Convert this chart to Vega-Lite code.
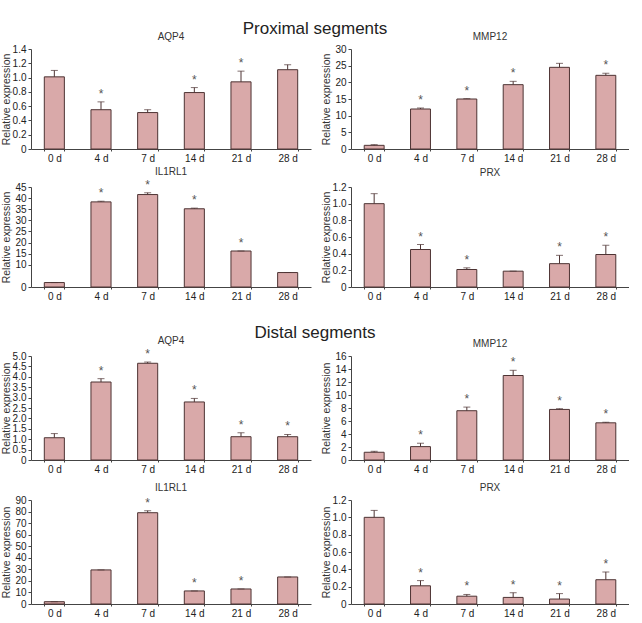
{
  "$schema": "https://vega.github.io/schema/vega-lite/v6.json",
  "padding": {"left": 1, "top": 20, "right": 0, "bottom": 0},
  "config": {
    "font": "Liberation Sans",
    "view": {"stroke": null},
    "axis": {"domainColor": "#444", "tickColor": "#444", "labelColor": "#222", "labelFontSize": 10, "labelFont": "Liberation Sans", "titleFont": "Liberation Sans", "titleFontWeight": "normal", "titleFontSize": 10.5, "titleColor": "#333", "grid": false, "labelOverlap": false, "labelFlush": false},
    "axisX": {"title": null, "labelAngle": 0, "tickBand": "extent", "tickSize": 2, "labelPadding": 2},
    "axisY": {"tickSize": 3, "labelPadding": 2, "titlePadding": 2, "minExtent": 18, "maxExtent": 18, "labelOverlap": false},
    "title": {"font": "Liberation Sans", "fontWeight": "normal", "fontSize": 10, "color": "#333", "offset": 2}
  },
  "datasets": {
    "d": [
      {"p": "PA", "day": "0 d", "v": 1.01, "e": 1.10, "s": ""},
      {"p": "PA", "day": "4 d", "v": 0.55, "e": 0.66, "s": "*"},
      {"p": "PA", "day": "7 d", "v": 0.51, "e": 0.55, "s": ""},
      {"p": "PA", "day": "14 d", "v": 0.79, "e": 0.86, "s": "*"},
      {"p": "PA", "day": "21 d", "v": 0.94, "e": 1.09, "s": "*"},
      {"p": "PA", "day": "28 d", "v": 1.11, "e": 1.18, "s": ""},
      {"p": "PM", "day": "0 d", "v": 1.1, "e": 1.3, "s": ""},
      {"p": "PM", "day": "4 d", "v": 12.0, "e": 12.3, "s": "*"},
      {"p": "PM", "day": "7 d", "v": 15.0, "e": 15.1, "s": "*"},
      {"p": "PM", "day": "14 d", "v": 19.3, "e": 20.3, "s": "*"},
      {"p": "PM", "day": "21 d", "v": 24.5, "e": 25.7, "s": ""},
      {"p": "PM", "day": "28 d", "v": 22.1, "e": 22.7, "s": "*"},
      {"p": "PI", "day": "0 d", "v": 2.0, "e": 2.0, "s": ""},
      {"p": "PI", "day": "4 d", "v": 38.3, "e": 38.6, "s": "*"},
      {"p": "PI", "day": "7 d", "v": 41.6, "e": 42.4, "s": "*"},
      {"p": "PI", "day": "14 d", "v": 35.2, "e": 35.5, "s": "*"},
      {"p": "PI", "day": "21 d", "v": 16.2, "e": 16.2, "s": "*"},
      {"p": "PI", "day": "28 d", "v": 6.5, "e": 6.5, "s": ""},
      {"p": "PP", "day": "0 d", "v": 1.0, "e": 1.12, "s": ""},
      {"p": "PP", "day": "4 d", "v": 0.45, "e": 0.51, "s": "*"},
      {"p": "PP", "day": "7 d", "v": 0.21, "e": 0.23, "s": "*"},
      {"p": "PP", "day": "14 d", "v": 0.19, "e": 0.19, "s": ""},
      {"p": "PP", "day": "21 d", "v": 0.28, "e": 0.38, "s": "*"},
      {"p": "PP", "day": "28 d", "v": 0.39, "e": 0.50, "s": "*"},
      {"p": "DA", "day": "0 d", "v": 1.07, "e": 1.27, "s": ""},
      {"p": "DA", "day": "4 d", "v": 3.75, "e": 3.91, "s": "*"},
      {"p": "DA", "day": "7 d", "v": 4.65, "e": 4.71, "s": "*"},
      {"p": "DA", "day": "14 d", "v": 2.79, "e": 2.96, "s": "*"},
      {"p": "DA", "day": "21 d", "v": 1.12, "e": 1.31, "s": "*"},
      {"p": "DA", "day": "28 d", "v": 1.12, "e": 1.23, "s": "*"},
      {"p": "DM", "day": "0 d", "v": 1.19, "e": 1.34, "s": ""},
      {"p": "DM", "day": "4 d", "v": 2.06, "e": 2.58, "s": "*"},
      {"p": "DM", "day": "7 d", "v": 7.58, "e": 8.14, "s": "*"},
      {"p": "DM", "day": "14 d", "v": 13.0, "e": 13.8, "s": "*"},
      {"p": "DM", "day": "21 d", "v": 7.78, "e": 7.89, "s": "*"},
      {"p": "DM", "day": "28 d", "v": 5.72, "e": 5.82, "s": "*"},
      {"p": "DI", "day": "0 d", "v": 2.0, "e": 2.0, "s": ""},
      {"p": "DI", "day": "4 d", "v": 29.5, "e": 29.5, "s": ""},
      {"p": "DI", "day": "7 d", "v": 79.0, "e": 80.7, "s": "*"},
      {"p": "DI", "day": "14 d", "v": 11.3, "e": 11.3, "s": "*"},
      {"p": "DI", "day": "21 d", "v": 13.0, "e": 13.0, "s": "*"},
      {"p": "DI", "day": "28 d", "v": 23.4, "e": 23.4, "s": ""},
      {"p": "DP", "day": "0 d", "v": 1.0, "e": 1.08, "s": ""},
      {"p": "DP", "day": "4 d", "v": 0.21, "e": 0.27, "s": "*"},
      {"p": "DP", "day": "7 d", "v": 0.09, "e": 0.11, "s": "*"},
      {"p": "DP", "day": "14 d", "v": 0.076, "e": 0.13, "s": "*"},
      {"p": "DP", "day": "21 d", "v": 0.057, "e": 0.12, "s": "*"},
      {"p": "DP", "day": "28 d", "v": 0.28, "e": 0.37, "s": "*"}
    ]
  },
  "data": {"name": "d"},
  "spacing": 23,
  "vconcat": [
    {
      "title": {"text": "Proximal segments", "fontSize": 17, "color": "#222", "anchor": "middle", "offset": -6},
      "columns": 2,
      "spacing": {"column": 10, "row": 3},
      "concat": [
        {
          "title": "AQP4", "width": 280, "height": 100,
          "transform": [{"filter": "datum.p == 'PA'"}],
          "encoding": {"x": {"field": "day", "type": "nominal", "sort": ["0 d", "4 d", "7 d", "14 d", "21 d", "28 d"], "scale": {"paddingInner": 0.57, "paddingOuter": 0.285}}},
          "layer": [
            {"mark": {"type": "bar", "fill": "#d9a9a9", "stroke": "#4d3333", "strokeWidth": 1}, "encoding": {"y": {"field": "v", "type": "quantitative", "scale": {"domain": [0, 1.4], "nice": false}, "axis": {"title": "Relative expression", "values": [0, 0.2, 0.4, 0.6, 0.8, 1.0, 1.2, 1.4], "labelExpr": "datum.value == 0 ? '0' : format(datum.value, '.1f')"}}}},
            {"mark": {"type": "rule", "color": "#4d3333"}, "encoding": {"y": {"field": "v", "type": "quantitative", "axis": {"title": "Relative expression", "values": [0, 0.2, 0.4, 0.6, 0.8, 1.0, 1.2, 1.4], "labelExpr": "datum.value == 0 ? '0' : format(datum.value, '.1f')"}}, "y2": {"field": "e"}}},
            {"mark": {"type": "tick", "color": "#4d3333", "thickness": 1, "size": 7}, "encoding": {"y": {"field": "e", "type": "quantitative", "axis": {"title": "Relative expression", "values": [0, 0.2, 0.4, 0.6, 0.8, 1.0, 1.2, 1.4], "labelExpr": "datum.value == 0 ? '0' : format(datum.value, '.1f')"}}}},
            {"mark": {"type": "text", "baseline": "bottom", "dy": -1, "fontSize": 12, "color": "#555"}, "encoding": {"y": {"field": "e", "type": "quantitative", "axis": {"title": "Relative expression", "values": [0, 0.2, 0.4, 0.6, 0.8, 1.0, 1.2, 1.4], "labelExpr": "datum.value == 0 ? '0' : format(datum.value, '.1f')"}}, "text": {"field": "s"}}}
          ]
        },
        {
          "title": "MMP12", "width": 278, "height": 100,
          "transform": [{"filter": "datum.p == 'PM'"}],
          "encoding": {"x": {"field": "day", "type": "nominal", "sort": ["0 d", "4 d", "7 d", "14 d", "21 d", "28 d"], "scale": {"paddingInner": 0.57, "paddingOuter": 0.285}}},
          "layer": [
            {"mark": {"type": "bar", "fill": "#d9a9a9", "stroke": "#4d3333", "strokeWidth": 1}, "encoding": {"y": {"field": "v", "type": "quantitative", "scale": {"domain": [0, 30], "nice": false}, "axis": {"title": "Relative expression", "values": [0, 5, 10, 15, 20, 25, 30], "format": "d"}}}},
            {"mark": {"type": "rule", "color": "#4d3333"}, "encoding": {"y": {"field": "v", "type": "quantitative", "axis": {"title": "Relative expression", "values": [0, 5, 10, 15, 20, 25, 30], "format": "d"}}, "y2": {"field": "e"}}},
            {"mark": {"type": "tick", "color": "#4d3333", "thickness": 1, "size": 7}, "encoding": {"y": {"field": "e", "type": "quantitative", "axis": {"title": "Relative expression", "values": [0, 5, 10, 15, 20, 25, 30], "format": "d"}}}},
            {"mark": {"type": "text", "baseline": "bottom", "dy": -1, "fontSize": 12, "color": "#555"}, "encoding": {"y": {"field": "e", "type": "quantitative", "axis": {"title": "Relative expression", "values": [0, 5, 10, 15, 20, 25, 30], "format": "d"}}, "text": {"field": "s"}}}
          ]
        },
        {
          "title": "IL1RL1", "width": 280, "height": 100,
          "transform": [{"filter": "datum.p == 'PI'"}],
          "encoding": {"x": {"field": "day", "type": "nominal", "sort": ["0 d", "4 d", "7 d", "14 d", "21 d", "28 d"], "scale": {"paddingInner": 0.57, "paddingOuter": 0.285}}},
          "layer": [
            {"mark": {"type": "bar", "fill": "#d9a9a9", "stroke": "#4d3333", "strokeWidth": 1}, "encoding": {"y": {"field": "v", "type": "quantitative", "scale": {"domain": [0, 45], "nice": false}, "axis": {"title": "Relative expression", "values": [0, 10, 15, 20, 25, 30, 35, 40, 45], "format": "d"}}}},
            {"mark": {"type": "rule", "color": "#4d3333"}, "encoding": {"y": {"field": "v", "type": "quantitative", "axis": {"title": "Relative expression", "values": [0, 10, 15, 20, 25, 30, 35, 40, 45], "format": "d"}}, "y2": {"field": "e"}}},
            {"mark": {"type": "tick", "color": "#4d3333", "thickness": 1, "size": 7}, "encoding": {"y": {"field": "e", "type": "quantitative", "axis": {"title": "Relative expression", "values": [0, 10, 15, 20, 25, 30, 35, 40, 45], "format": "d"}}}},
            {"mark": {"type": "text", "baseline": "bottom", "dy": -1, "fontSize": 12, "color": "#555"}, "encoding": {"y": {"field": "e", "type": "quantitative", "axis": {"title": "Relative expression", "values": [0, 10, 15, 20, 25, 30, 35, 40, 45], "format": "d"}}, "text": {"field": "s"}}}
          ]
        },
        {
          "title": "PRX", "width": 278, "height": 100,
          "transform": [{"filter": "datum.p == 'PP'"}],
          "encoding": {"x": {"field": "day", "type": "nominal", "sort": ["0 d", "4 d", "7 d", "14 d", "21 d", "28 d"], "scale": {"paddingInner": 0.57, "paddingOuter": 0.285}}},
          "layer": [
            {"mark": {"type": "bar", "fill": "#d9a9a9", "stroke": "#4d3333", "strokeWidth": 1}, "encoding": {"y": {"field": "v", "type": "quantitative", "scale": {"domain": [0, 1.2], "nice": false}, "axis": {"title": "Relative expression", "values": [0, 0.2, 0.4, 0.6, 0.8, 1.0, 1.2], "labelExpr": "datum.value == 0 ? '0' : format(datum.value, '.1f')"}}}},
            {"mark": {"type": "rule", "color": "#4d3333"}, "encoding": {"y": {"field": "v", "type": "quantitative", "axis": {"title": "Relative expression", "values": [0, 0.2, 0.4, 0.6, 0.8, 1.0, 1.2], "labelExpr": "datum.value == 0 ? '0' : format(datum.value, '.1f')"}}, "y2": {"field": "e"}}},
            {"mark": {"type": "tick", "color": "#4d3333", "thickness": 1, "size": 7}, "encoding": {"y": {"field": "e", "type": "quantitative", "axis": {"title": "Relative expression", "values": [0, 0.2, 0.4, 0.6, 0.8, 1.0, 1.2], "labelExpr": "datum.value == 0 ? '0' : format(datum.value, '.1f')"}}}},
            {"mark": {"type": "text", "baseline": "bottom", "dy": -1, "fontSize": 12, "color": "#555"}, "encoding": {"y": {"field": "e", "type": "quantitative", "axis": {"title": "Relative expression", "values": [0, 0.2, 0.4, 0.6, 0.8, 1.0, 1.2], "labelExpr": "datum.value == 0 ? '0' : format(datum.value, '.1f')"}}, "text": {"field": "s"}}}
          ]
        }
      ]
    },
    {
      "title": {"text": "Distal segments", "fontSize": 17, "color": "#222", "anchor": "middle", "offset": -6},
      "columns": 2,
      "spacing": {"column": 10, "row": 9},
      "concat": [
        {
          "title": "AQP4", "width": 280, "height": 104,
          "transform": [{"filter": "datum.p == 'DA'"}],
          "encoding": {"x": {"field": "day", "type": "nominal", "sort": ["0 d", "4 d", "7 d", "14 d", "21 d", "28 d"], "scale": {"paddingInner": 0.57, "paddingOuter": 0.285}}},
          "layer": [
            {"mark": {"type": "bar", "fill": "#d9a9a9", "stroke": "#4d3333", "strokeWidth": 1}, "encoding": {"y": {"field": "v", "type": "quantitative", "scale": {"domain": [0, 5], "nice": false}, "axis": {"title": "Relative expression", "values": [0, 0.5, 1.0, 1.5, 2.0, 2.5, 3.0, 3.5, 4.0, 4.5, 5.0], "labelExpr": "datum.value == 0 ? '0' : format(datum.value, '.1f')"}}}},
            {"mark": {"type": "rule", "color": "#4d3333"}, "encoding": {"y": {"field": "v", "type": "quantitative", "axis": {"title": "Relative expression", "values": [0, 0.5, 1.0, 1.5, 2.0, 2.5, 3.0, 3.5, 4.0, 4.5, 5.0], "labelExpr": "datum.value == 0 ? '0' : format(datum.value, '.1f')"}}, "y2": {"field": "e"}}},
            {"mark": {"type": "tick", "color": "#4d3333", "thickness": 1, "size": 7}, "encoding": {"y": {"field": "e", "type": "quantitative", "axis": {"title": "Relative expression", "values": [0, 0.5, 1.0, 1.5, 2.0, 2.5, 3.0, 3.5, 4.0, 4.5, 5.0], "labelExpr": "datum.value == 0 ? '0' : format(datum.value, '.1f')"}}}},
            {"mark": {"type": "text", "baseline": "bottom", "dy": -1, "fontSize": 12, "color": "#555"}, "encoding": {"y": {"field": "e", "type": "quantitative", "axis": {"title": "Relative expression", "values": [0, 0.5, 1.0, 1.5, 2.0, 2.5, 3.0, 3.5, 4.0, 4.5, 5.0], "labelExpr": "datum.value == 0 ? '0' : format(datum.value, '.1f')"}}, "text": {"field": "s"}}}
          ]
        },
        {
          "title": "MMP12", "width": 278, "height": 104,
          "transform": [{"filter": "datum.p == 'DM'"}],
          "encoding": {"x": {"field": "day", "type": "nominal", "sort": ["0 d", "4 d", "7 d", "14 d", "21 d", "28 d"], "scale": {"paddingInner": 0.57, "paddingOuter": 0.285}}},
          "layer": [
            {"mark": {"type": "bar", "fill": "#d9a9a9", "stroke": "#4d3333", "strokeWidth": 1}, "encoding": {"y": {"field": "v", "type": "quantitative", "scale": {"domain": [0, 16], "nice": false}, "axis": {"title": "Relative expression", "values": [0, 2, 4, 6, 8, 10, 12, 14, 16], "format": "d"}}}},
            {"mark": {"type": "rule", "color": "#4d3333"}, "encoding": {"y": {"field": "v", "type": "quantitative", "axis": {"title": "Relative expression", "values": [0, 2, 4, 6, 8, 10, 12, 14, 16], "format": "d"}}, "y2": {"field": "e"}}},
            {"mark": {"type": "tick", "color": "#4d3333", "thickness": 1, "size": 7}, "encoding": {"y": {"field": "e", "type": "quantitative", "axis": {"title": "Relative expression", "values": [0, 2, 4, 6, 8, 10, 12, 14, 16], "format": "d"}}}},
            {"mark": {"type": "text", "baseline": "bottom", "dy": -1, "fontSize": 12, "color": "#555"}, "encoding": {"y": {"field": "e", "type": "quantitative", "axis": {"title": "Relative expression", "values": [0, 2, 4, 6, 8, 10, 12, 14, 16], "format": "d"}}, "text": {"field": "s"}}}
          ]
        },
        {
          "title": "IL1RL1", "width": 280, "height": 104,
          "transform": [{"filter": "datum.p == 'DI'"}],
          "encoding": {"x": {"field": "day", "type": "nominal", "sort": ["0 d", "4 d", "7 d", "14 d", "21 d", "28 d"], "scale": {"paddingInner": 0.57, "paddingOuter": 0.285}}},
          "layer": [
            {"mark": {"type": "bar", "fill": "#d9a9a9", "stroke": "#4d3333", "strokeWidth": 1}, "encoding": {"y": {"field": "v", "type": "quantitative", "scale": {"domain": [0, 90], "nice": false}, "axis": {"title": "Relative expression", "values": [0, 10, 20, 30, 40, 50, 60, 70, 80, 90], "format": "d"}}}},
            {"mark": {"type": "rule", "color": "#4d3333"}, "encoding": {"y": {"field": "v", "type": "quantitative", "axis": {"title": "Relative expression", "values": [0, 10, 20, 30, 40, 50, 60, 70, 80, 90], "format": "d"}}, "y2": {"field": "e"}}},
            {"mark": {"type": "tick", "color": "#4d3333", "thickness": 1, "size": 7}, "encoding": {"y": {"field": "e", "type": "quantitative", "axis": {"title": "Relative expression", "values": [0, 10, 20, 30, 40, 50, 60, 70, 80, 90], "format": "d"}}}},
            {"mark": {"type": "text", "baseline": "bottom", "dy": -1, "fontSize": 12, "color": "#555"}, "encoding": {"y": {"field": "e", "type": "quantitative", "axis": {"title": "Relative expression", "values": [0, 10, 20, 30, 40, 50, 60, 70, 80, 90], "format": "d"}}, "text": {"field": "s"}}}
          ]
        },
        {
          "title": "PRX", "width": 278, "height": 104,
          "transform": [{"filter": "datum.p == 'DP'"}],
          "encoding": {"x": {"field": "day", "type": "nominal", "sort": ["0 d", "4 d", "7 d", "14 d", "21 d", "28 d"], "scale": {"paddingInner": 0.57, "paddingOuter": 0.285}}},
          "layer": [
            {"mark": {"type": "bar", "fill": "#d9a9a9", "stroke": "#4d3333", "strokeWidth": 1}, "encoding": {"y": {"field": "v", "type": "quantitative", "scale": {"domain": [0, 1.2], "nice": false}, "axis": {"title": "Relative expression", "values": [0, 0.2, 0.4, 0.6, 0.8, 1.0, 1.2], "labelExpr": "datum.value == 0 ? '0' : format(datum.value, '.1f')"}}}},
            {"mark": {"type": "rule", "color": "#4d3333"}, "encoding": {"y": {"field": "v", "type": "quantitative", "axis": {"title": "Relative expression", "values": [0, 0.2, 0.4, 0.6, 0.8, 1.0, 1.2], "labelExpr": "datum.value == 0 ? '0' : format(datum.value, '.1f')"}}, "y2": {"field": "e"}}},
            {"mark": {"type": "tick", "color": "#4d3333", "thickness": 1, "size": 7}, "encoding": {"y": {"field": "e", "type": "quantitative", "axis": {"title": "Relative expression", "values": [0, 0.2, 0.4, 0.6, 0.8, 1.0, 1.2], "labelExpr": "datum.value == 0 ? '0' : format(datum.value, '.1f')"}}}},
            {"mark": {"type": "text", "baseline": "bottom", "dy": -1, "fontSize": 12, "color": "#555"}, "encoding": {"y": {"field": "e", "type": "quantitative", "axis": {"title": "Relative expression", "values": [0, 0.2, 0.4, 0.6, 0.8, 1.0, 1.2], "labelExpr": "datum.value == 0 ? '0' : format(datum.value, '.1f')"}}, "text": {"field": "s"}}}
          ]
        }
      ]
    }
  ]
}
